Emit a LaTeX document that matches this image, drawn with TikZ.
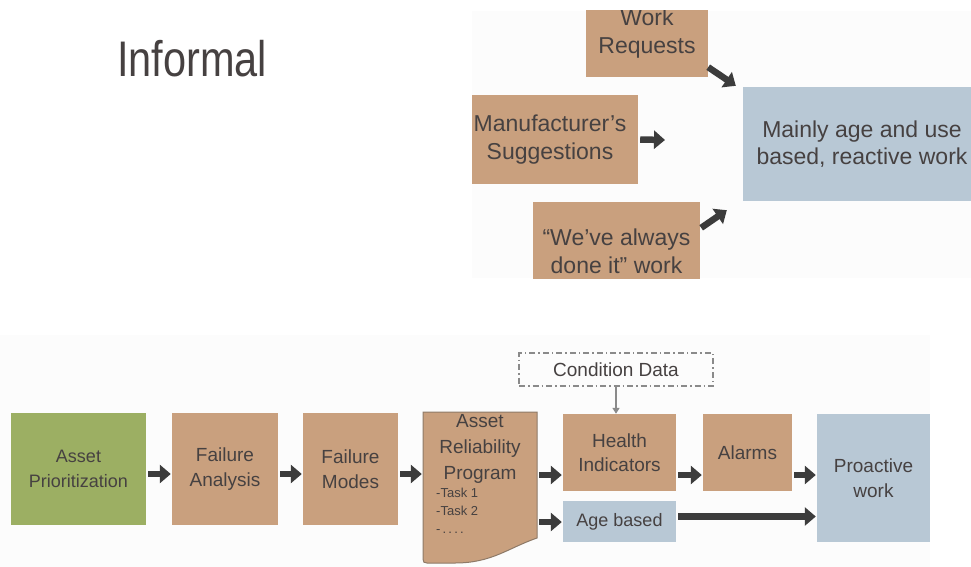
\documentclass[tikz,border=0pt]{standalone}
\usepackage{fontspec}
\setmainfont{Liberation Sans}
\usetikzlibrary{arrows.meta}
\definecolor{tan}{HTML}{C9A07E}
\definecolor{grn}{HTML}{9CAF63}
\definecolor{blu}{HTML}{B8C8D5}
\definecolor{txt}{HTML}{464141}
\definecolor{arr}{HTML}{3C3C3C}
\definecolor{panel}{HTML}{FCFCFC}
\definecolor{docb}{HTML}{8E7A68}
\definecolor{dashc}{HTML}{8A8A8A}
\tikzset{
  box/.style={inner sep=0pt, align=center, text=txt},
  tanbox/.style={box, fill=tan},
  bluebox/.style={box, fill=blu},
  bigtext/.style={font=\fontsize{23}{27.5}\selectfont},
  midtext/.style={font=\fontsize{19}{24.5}\selectfont},
  fat/.style={draw=arr, line width=6.5pt, -{Triangle[length=11pt,width=18pt]}},
  slim/.style={draw=dashc, line width=1.5pt, -{Triangle[length=6pt,width=7pt]}},
}
\begin{document}
\begin{tikzpicture}[x=1pt,y=-1pt]
\useasboundingbox (0,0) rectangle (971,567);
\fill[white] (0,0) rectangle (971,567);

% titles
\node[anchor=base west, inner sep=0, text=txt, font=\fontsize{50}{50}\selectfont] (tinf) at (117,77) {\scalebox{0.83}[1]{Informal}};
\node[anchor=base west, inner sep=0, text=txt, font=\fontsize{38}{38}\selectfont] (tfor) at (15,370) {Formal};

% informal panel
\begin{scope}
\clip (472,11) rectangle (971,278);
\fill[panel] (472,11) rectangle (971,278);
\node[tanbox,bigtext,minimum width=122pt,minimum height=87pt] (wr) at (647,33.5) {Work\\Requests};
\node[tanbox,bigtext,minimum width=176pt,minimum height=89pt] (mfr) at (550,139.5) {Manufacturer's\\Suggestions};
\node[tanbox,bigtext,minimum width=167pt,minimum height=99pt] (we) at (616.5,251.5) {“We've always\\done it” work};
\node[bluebox,bigtext,minimum width=238pt,minimum height=114pt] (main) at (862,144) {Mainly age and use\\based, reactive work};
\coordinate (mfrend) at (665,140);
\draw[fat] ([shift={(0,-10)}]wr.south east) -- ([shift={(-7,-1)}]main.north west);
\draw[fat] ([xshift=2pt]mfr.east) -- (mfrend);
\draw[fat] ([shift={(1,26)}]we.north east) -- ([shift={(-16,9)}]main.south west);
\end{scope}

% formal panel
\fill[panel] (0,335) rectangle (930,567);
\node[box,fill=grn,font=\fontsize{18}{25}\selectfont,minimum width=135pt,minimum height=112pt] (ap) at (78.5,469) {Asset\\Prioritization};
\node[tanbox,midtext,minimum width=106pt,minimum height=112pt] (fa) at (225,469) {Failure\\Analysis};
\node[tanbox,midtext,minimum width=95pt,minimum height=112pt] (fm) at (350.5,469) {Failure\\Modes};

\filldraw[fill=tan,draw=docb,line width=1pt] (423,412) -- (537,412) -- (537,538)
  .. controls (508,548) and (492,563) .. (455,563) -- (427,563)
  .. controls (424,563) and (423,562) .. (423,559) -- cycle;
\node[box,minimum width=114pt,minimum height=128pt] (arp) at (480,476) {};
\node[text=txt,font=\fontsize{19}{26}\selectfont,align=center,inner sep=0] (arpt) at (480,449) {Asset\\Reliability\\Program};
\node[text=txt,font=\fontsize{13}{18}\selectfont,align=left,anchor=north west,inner sep=0] (arpk) at (436,488) {-Task 1\\-Task 2\\-\,.\,.\,.\,.};

\node[box,draw=dashc,line width=1.2pt,dash pattern=on 6pt off 3pt on 1.5pt off 3pt,font=\fontsize{19}{24}\selectfont,minimum width=194pt,minimum height=33pt] (cd) at (616,369.5) {Condition Data};
\node[tanbox,midtext,minimum width=113pt,minimum height=77pt] (hi) at (619.5,452.5) {Health\\Indicators};
\node[tanbox,midtext,minimum width=89pt,minimum height=77pt] (al) at (747.5,452.5) {Alarms};
\node[bluebox,midtext,minimum width=113pt,minimum height=128pt] (pw) at (873.5,478) {Proactive\\work};
\node[bluebox,font=\fontsize{18}{24}\selectfont,minimum width=113pt,minimum height=41pt] (ab) at (619.5,521.5) {Age based};

\draw[fat] ([shift={(2,5)}]ap.east) -- ([shift={(-1,5)}]fa.west);
\draw[fat] ([shift={(2,5)}]fa.east) -- ([shift={(-1,5)}]fm.west);
\draw[fat] ([shift={(2,5)}]fm.east) -- ([shift={(-1,-2)}]arp.west);
\draw[fat] ([shift={(2,-1)}]arp.east) -- ([shift={(-1,22.5)}]hi.west);
\draw[fat] ([shift={(2,46)}]arp.east) -- ([shift={(-1,0.5)}]ab.west);
\draw[fat] ([shift={(2,22.5)}]hi.east) -- ([shift={(-1,22.5)}]al.west);
\draw[fat] ([shift={(2,22.5)}]al.east) -- ([shift={(-1,-3)}]pw.west);
\draw[fat] ([shift={(2,-5)}]ab.east) -- ([shift={(-1,38.5)}]pw.west);
\draw[slim] (cd.south) -- (cd.south |- hi.north);
\end{tikzpicture}
\end{document}
